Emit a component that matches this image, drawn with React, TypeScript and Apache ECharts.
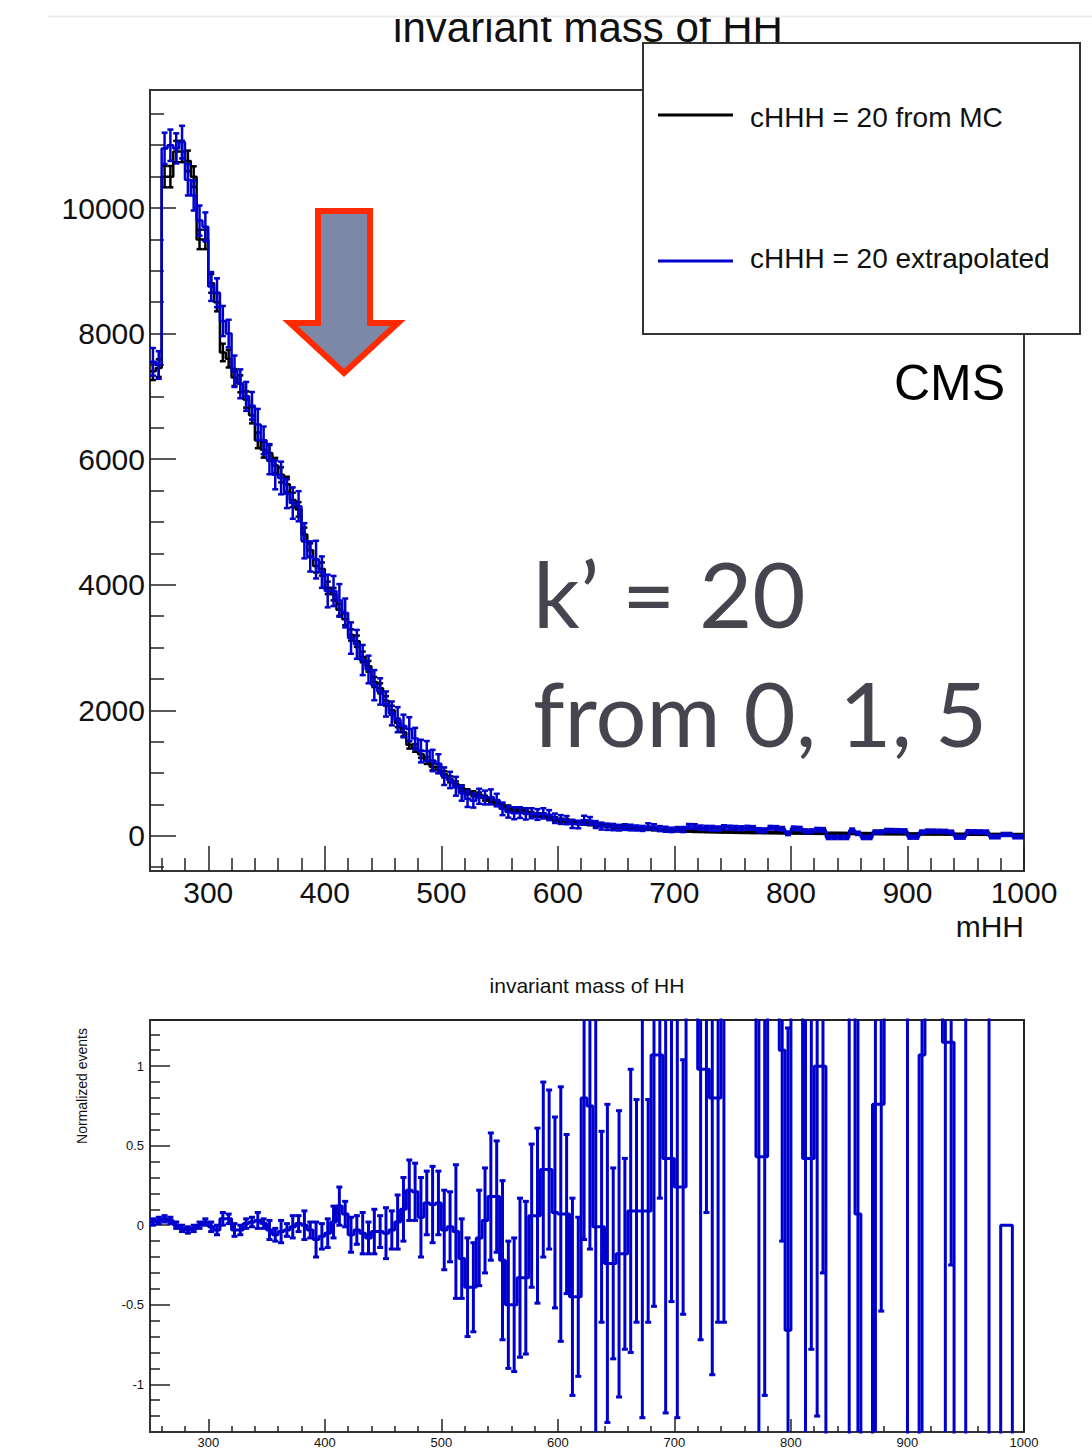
import React, { useEffect, useRef } from "react";
import * as echarts from "echarts";

const BIN_START = 250;
const BIN_WIDTH = 5;

// cHHH = 20 from MC (black), per 5 GeV bin from 250 to 1000
const mcValues = [
  7400, 7450, 10500, 10500, 10900, 10900, 10750, 10500, 9500, 9500,
  8800, 8500, 7700, 7600, 7300, 7200, 6950, 6700, 6300, 6150,
  6100, 5900, 5750, 5600, 5350, 5200, 4800, 4550, 4300, 4250,
  3950, 3850, 3600, 3450, 3200, 3100, 2850, 2700, 2450, 2350,
  2150, 2000, 1800, 1650, 1450, 1400, 1300, 1200, 1100, 1050,
  980, 900, 820, 760, 700, 670, 650, 600, 560, 520,
  480, 450, 420, 400, 380, 350, 330, 310, 290, 270,
  250, 240, 225, 210, 200, 190, 180, 170, 160, 150,
  140, 135, 128, 120, 115, 110, 104, 100, 95, 90,
  86, 82, 80, 76, 74, 70, 68, 66, 64, 62,
  60, 58, 57, 55, 54, 52, 51, 50, 48, 47,
  46, 45, 44, 43, 42, 41, 40, 40, 39, 38,
  37, 36, 36, 35, 34, 34, 33, 32, 32, 31,
  30, 30, 29, 29, 28, 28, 27, 27, 26, 26,
  25, 25, 24, 24, 23, 23, 22, 22, 21, 21,
];
const mcErrors = [
  140, 140, 170, 170, 170, 170, 165, 165, 155, 155,
  150, 145, 140, 140, 135, 135, 130, 130, 125, 125,
  125, 120, 120, 120, 115, 115, 110, 110, 105, 105,
  100, 100, 95, 95, 90, 90, 85, 85, 80, 80,
  75, 72, 68, 65, 60, 60, 57, 55, 53, 52,
  50, 48, 46, 44, 42, 41, 40, 39, 38, 36,
  35, 34, 33, 32, 31, 30, 29, 28, 27, 26,
  25, 25, 24, 23, 23, 22, 21, 21, 20, 20,
  19, 19, 18, 18, 17, 17, 17, 16, 16, 15,
  15, 15, 14, 14, 14, 13, 13, 13, 13, 12,
  12, 12, 12, 12, 11, 11, 11, 11, 11, 11,
  10, 10, 10, 10, 10, 10, 10, 10, 10, 10,
  9, 9, 9, 9, 9, 9, 9, 9, 9, 9,
  9, 9, 8, 8, 8, 8, 8, 8, 8, 8,
  8, 8, 8, 8, 8, 8, 8, 8, 8, 8,
];

// cHHH = 20 extrapolated (blue)
const extValues = [
  7550, 7500, 10950, 11000, 10950, 11050, 10450, 10200, 9800, 9700,
  8750, 8650, 8200, 8000, 7400, 7200, 7000, 6850, 6550, 6300,
  6000, 5750, 5700, 5450, 5300, 5250, 4700, 4450, 4400, 4200,
  3900, 3900, 3750, 3550, 3150, 3050, 2800, 2650, 2400, 2300,
  2100, 1950, 1850, 1750, 1700, 1550, 1350, 1350, 1200, 1150,
  950, 890, 790, 680, 590, 560, 630, 610, 620, 570,
  430, 380, 360, 370, 350, 360, 340, 360, 330, 280,
  260, 250, 190, 180, 250, 240, 180, 155, 145, 140,
  130, 140, 132, 125, 118, 150, 140, 115, 105, 95,
  105, 100, 150, 150, 130, 125, 120, 115, 135, 130,
  125, 120, 130, 125, 90, 88, 130, 125, 110, 40,
  120, 115, 75, 75, 98, 95, -25, -25, -25, -25,
  90, 40, -25, -25, 60, 62, 84, 82, 80, 78,
  -20, -20, 60, 75, 74, 72, 70, 58, -20, -20,
  65, 64, 62, 60, -15, -15, 22, 22, -15, -15,
];
const extErrors = [
  220, 220, 250, 250, 240, 260, 250, 240, 240, 230,
  230, 230, 240, 220, 250, 230, 230, 220, 250, 220,
  240, 230, 260, 230, 250, 240, 280, 240, 300, 250,
  260, 240, 260, 230, 250, 230, 240, 220, 240, 210,
  200, 190, 200, 180, 190, 170, 180, 160, 170, 150,
  140, 130, 150, 120, 130, 110, 120, 110, 120, 100,
  100, 90, 95, 85, 90, 80, 85, 80, 80, 75,
  70, 65, 65, 60, 70, 60, 55, 55, 50, 50,
  45, 45, 45, 40, 40, 50, 45, 40, 40, 35,
  35, 40, 38, 36, 34, 34, 38, 34, 34, 32,
  32, 32, 30, 30, 32, 30, 28, 30, 30, 28,
  28, 28, 28, 28, 28, 28, 26, 26, 26, 26,
  26, 26, 26, 26, 26, 26, 26, 26, 26, 26,
  25, 25, 25, 25, 25, 25, 25, 25, 25, 25,
  25, 25, 25, 25, 24, 24, 24, 24, 24, 24,
];

// lower panel: normalized difference (values beyond +-1.3 run off the frame)
const ratioValues = [
  0.02, 0.03, 0.04, 0.03, 0.0, -0.02, -0.03, -0.02, 0.0, 0.02,
  -0.01, -0.03, 0.04, 0.04, -0.03, -0.03, 0.01, 0.02, 0.03, 0.01,
  -0.03, -0.06, -0.04, -0.03, -0.01, 0.01, 0.0, -0.03, -0.09, -0.07,
  -0.05, 0.02, 0.12, 0.07, -0.06, -0.03, -0.05, -0.08, -0.04, -0.04,
  -0.05, -0.03, 0.02, 0.1, 0.22, 0.21, 0.05, 0.14, 0.13, 0.14,
  -0.03, -0.01, -0.04, -0.21, -0.39, -0.39, -0.08, 0.03, 0.18, 0.18,
  -0.22, -0.5, -0.5, -0.33, -0.33, 0.06, 0.06, 0.35, 0.35, 0.08,
  0.07, 0.07, -0.45, -0.45, 0.8, 0.75, -0.01, -0.01, -0.24, -0.24,
  -0.18, -0.18, 0.09, 0.09, 0.09, 0.09, 1.07, 1.07, 0.42, 0.42,
  0.24, 0.24, 3, 3, 0.98, 0.98, 0.8, 0.8, 3, 3,
  3, 3, 3, 3, 0.43, 0.43, 3, 3, 1.1, -0.66,
  3, 3, 0.42, 0.42, 1.0, 1.0, -3, -3, -3, -3,
  3, 0.07, -3, -3, 0.76, 0.76, 3, 3, 3, 3,
  -3, -3, 1.07, 3, 3, 3, 1.15, 1.15, -3, -3,
  3, 3, 3, 3, -3, -3, 0.0, 0.0, -3, -3,
];
const ratioErrors = [
  0.02, 0.02, 0.02, 0.02, 0.02, 0.02, 0.02, 0.02, 0.02, 0.02,
  0.03, 0.03, 0.04, 0.03, 0.04, 0.03, 0.03, 0.03, 0.05, 0.03,
  0.06, 0.04, 0.07, 0.04, 0.07, 0.05, 0.09, 0.05, 0.11, 0.08,
  0.09, 0.1, 0.12, 0.08, 0.11, 0.09, 0.13, 0.1, 0.14, 0.1,
  0.16, 0.12, 0.17, 0.2, 0.19, 0.18, 0.25, 0.2, 0.24, 0.2,
  0.25, 0.22, 0.42, 0.25, 0.31, 0.28, 0.3, 0.33, 0.4, 0.35,
  0.5, 0.4, 0.42, 0.5, 0.48, 0.45, 0.55, 0.55, 0.5, 0.6,
  0.8, 0.5, 0.62, 0.5, 0.89, 0.9, 1.4, 0.6, 1.0, 0.6,
  0.9, 0.6, 0.89, 0.7, 1.3, 0.7, 1.58, 0.9, 1.6, 0.9,
  1.45, 0.8, 0, 0, 1.7, 0.9, 1.74, 1.41, 3.61, 0,
  0, 0, 0, 0, 1.9, 1.5, 0, 0, 1.2, 1.9,
  0, 0, 1.8, 1.2, 2.2, 1.3, 0, 0, 0, 0,
  0, 1.5, 0, 0, 2.2, 1.3, 0, 0, 0, 0,
  0, 0, 2.5, 0, 0, 0, 2.5, 1.4, 0, 0,
  0, 0, 0, 0, 0, 0, 0, 0, 0, 0,
];

const X_MAJOR = [300, 400, 500, 600, 700, 800, 900, 1000];
const X_MINOR = [260, 280, 320, 340, 360, 380, 420, 440, 460, 480, 520, 540, 560, 580, 620, 640, 660, 680, 720, 740, 760, 780, 820, 840, 860, 880, 920, 940, 960, 980];
const Y_TOP_MAJOR = [0, 2000, 4000, 6000, 8000, 10000];
const Y_TOP_MINOR = [-500, 500, 1000, 1500, 2500, 3000, 3500, 4500, 5000, 5500, 6500, 7000, 7500, 8500, 9000, 9500, 10500, 11000, 11500];
const Y_BOT_MAJOR = [-1, -0.5, 0, 0.5, 1];
const Y_BOT_MINOR = [-1.2, -1.1, -0.9, -0.8, -0.7, -0.6, -0.4, -0.3, -0.2, -0.1, 0.1, 0.2, 0.3, 0.4, 0.6, 0.7, 0.8, 0.9, 1.1, 1.2];

const FONT = "Liberation Sans, Arial, Helvetica, sans-serif";
const BLUE = "#0000cc";

const stepData = (vals: number[]) =>
  vals
    .map((v, i) => [BIN_START + i * BIN_WIDTH, v])
    .concat([[BIN_START + vals.length * BIN_WIDTH, vals[vals.length - 1]]]);

const errData = (vals: number[], errs: number[]) =>
  vals.map((v, i) => [BIN_START + (i + 0.5) * BIN_WIDTH, v, errs[i]]);

const makeErr = (color: string, lw: number, cap: number) => (params: any, api: any) => {
  const x = api.value(0);
  const y = api.value(1);
  const e = api.value(2);
  if (!e) return { type: "group", children: [] };
  const top = api.coord([x, y + e]);
  const bot = api.coord([x, y - e]);
  const style = { stroke: color, lineWidth: lw };
  return {
    type: "group",
    children: [
      { type: "line", shape: { x1: top[0], y1: top[1], x2: bot[0], y2: bot[1] }, style },
      { type: "line", shape: { x1: top[0] - cap, y1: top[1], x2: top[0] + cap, y2: top[1] }, style },
      { type: "line", shape: { x1: bot[0] - cap, y1: bot[1], x2: bot[0] + cap, y2: bot[1] }, style },
    ],
  };
};

const tickStyle = { color: "#222", width: 1.5 };

const makeX = (grid: number, major: boolean, big: boolean) => ({
  gridIndex: grid,
  type: "value",
  min: 250,
  max: 1000,
  position: "bottom",
  axisLine: { show: major, onZero: false, lineStyle: { color: "#333", width: 2 } },
  axisTick: {
    show: true,
    inside: true,
    length: major ? (big ? 25 : 13) : big ? 13 : 6,
    customValues: major ? X_MAJOR : X_MINOR,
    lineStyle: tickStyle,
  },
  axisLabel: major
    ? {
        show: true,
        customValues: X_MAJOR,
        fontSize: big ? 30 : 13,
        fontFamily: FONT,
        color: "#111",
        margin: big ? 6 : 4,
        formatter: (v: number) => String(v),
      }
    : { show: false },
  splitLine: { show: false },
});

const makeY = (grid: number, major: boolean, big: boolean, min: number, max: number, majorVals: number[], minorVals: number[]) => ({
  gridIndex: grid,
  type: "value",
  min,
  max,
  position: "left",
  axisLine: { show: major, onZero: false, lineStyle: { color: "#333", width: 2 } },
  axisTick: {
    show: true,
    inside: true,
    length: major ? (big ? 26 : 20) : big ? 14 : 10,
    customValues: major ? majorVals : minorVals,
    lineStyle: tickStyle,
  },
  axisLabel: major
    ? {
        show: true,
        customValues: majorVals,
        fontSize: big ? 30 : 13,
        fontFamily: FONT,
        color: "#111",
        margin: big ? 5 : 6,
        formatter: (v: number) => String(v),
      }
    : { show: false },
  splitLine: { show: false },
});

const txt = (text: string, x: number, y: number, size: number, align: string, extra: any = {}) => ({
  type: "text",
  x,
  y,
  z: 100,
  ...extra,
  style: {
    text,
    x: 0,
    y: 0,
    fontSize: size,
    fontFamily: extra.fontFamily || FONT,
    fill: extra.fill || "#111",
    align,
    verticalAlign: "middle",
    textAlign: align,
    textVerticalAlign: "middle",
  },
});

const option: any = {
  animation: false,
  backgroundColor: "#ffffff",
  grid: [
    { left: 150, top: 90, width: 874, height: 781, show: true, borderColor: "#333", borderWidth: 2, backgroundColor: "rgba(0,0,0,0)" },
    { left: 150, top: 1020, width: 874, height: 412, show: true, borderColor: "#222", borderWidth: 2, backgroundColor: "rgba(0,0,0,0)" },
  ],
  xAxis: [makeX(0, true, true), makeX(0, false, true), makeX(1, true, false), makeX(1, false, false)],
  yAxis: [
    makeY(0, true, true, -560, 11880, Y_TOP_MAJOR, Y_TOP_MINOR),
    makeY(0, false, true, -560, 11880, Y_TOP_MAJOR, Y_TOP_MINOR),
    makeY(1, true, false, -1.3, 1.29, Y_BOT_MAJOR, Y_BOT_MINOR),
    makeY(1, false, false, -1.3, 1.29, Y_BOT_MAJOR, Y_BOT_MINOR),
  ],
  series: [
    {
      type: "line",
      xAxisIndex: 0,
      yAxisIndex: 0,
      step: "end",
      data: stepData(mcValues),
      showSymbol: false,
      symbol: "none",
      lineStyle: { color: "#000", width: 2.5 },
      clip: true,
      z: 2,
    },
    {
      type: "custom",
      xAxisIndex: 0,
      yAxisIndex: 0,
      data: errData(mcValues, mcErrors),
      renderItem: makeErr("#000", 2.5, 3),
      encode: { x: 0, y: 1 },
      clip: true,
      z: 2,
    },
    {
      type: "line",
      xAxisIndex: 0,
      yAxisIndex: 0,
      step: "end",
      data: stepData(extValues),
      showSymbol: false,
      symbol: "none",
      lineStyle: { color: BLUE, width: 2.5 },
      clip: true,
      z: 3,
    },
    {
      type: "custom",
      xAxisIndex: 0,
      yAxisIndex: 0,
      data: errData(extValues, extErrors),
      renderItem: makeErr(BLUE, 2.5, 3),
      encode: { x: 0, y: 1 },
      clip: true,
      z: 3,
    },
    {
      type: "line",
      xAxisIndex: 2,
      yAxisIndex: 2,
      step: "end",
      data: stepData(ratioValues),
      showSymbol: false,
      symbol: "none",
      lineStyle: { color: BLUE, width: 3 },
      clip: true,
      z: 3,
    },
    {
      type: "custom",
      xAxisIndex: 2,
      yAxisIndex: 2,
      data: errData(ratioValues, ratioErrors),
      renderItem: makeErr(BLUE, 3, 3),
      encode: { x: 0, y: 1 },
      clip: true,
      z: 3,
    },
  ],
  graphic: [
    txt("invariant mass of HH", 588, 27, 42, "center"),
    { type: "rect", z: 200, shape: { x: 0, y: 0, width: 1092, height: 16 }, style: { fill: "#ffffff" } },
    { type: "line", z: 200, shape: { x1: 48, y1: 16.5, x2: 1092, y2: 16.5 }, style: { stroke: "#ebebeb", lineWidth: 2 } },
    { type: "rect", z: 90, shape: { x: 643, y: 43, width: 437, height: 291 }, style: { fill: "#ffffff", stroke: "#333", lineWidth: 2 } },
    { type: "line", z: 100, shape: { x1: 658, y1: 115, x2: 733, y2: 115 }, style: { stroke: "#000", lineWidth: 3 } },
    { type: "line", z: 100, shape: { x1: 658, y1: 261, x2: 733, y2: 261 }, style: { stroke: BLUE, lineWidth: 3 } },
    txt("cHHH = 20 from MC", 750, 117, 28, "left"),
    txt("cHHH = 20 extrapolated", 750, 258, 28, "left"),
    txt("CMS", 894, 383, 50, "left", { fill: "#000" }),
    {
      type: "polygon",
      z: 100,
      shape: { points: [[318, 211], [370, 211], [370, 323], [398, 323], [344, 373], [290, 323], [318, 323]] },
      style: { fill: "#7d88a8", stroke: "#ff2a00", lineWidth: 6, lineJoin: "miter" },
    },
    txt("k\u2019 = 20", 533, 592, 92, "left", { fill: "#45454f", fontFamily: "Lato, Open Sans, sans-serif" }),
    txt("from 0, 1, 5", 533, 712, 90, "left", { fill: "#45454f", fontFamily: "Lato, Open Sans, sans-serif" }),
    txt("mHH", 1024, 926, 30, "right"),
    txt("invariant mass of HH", 587, 985, 21, "center"),
    txt("Normalized events", 82, 1086, 14, "center", { rotation: Math.PI / 2 }),
  ],
};

export default function App() {
  const ref = useRef<HTMLDivElement>(null);
  useEffect(() => {
    if (!ref.current) return;
    const chart = echarts.init(ref.current, null, { renderer: "svg" });
    chart.setOption(option);
    return () => chart.dispose();
  }, []);
  return (
    <div
      ref={ref}
      style={{ position: "absolute", left: 0, top: 0, width: 1092, height: 1453, background: "#fff" }}
    />
  );
}
